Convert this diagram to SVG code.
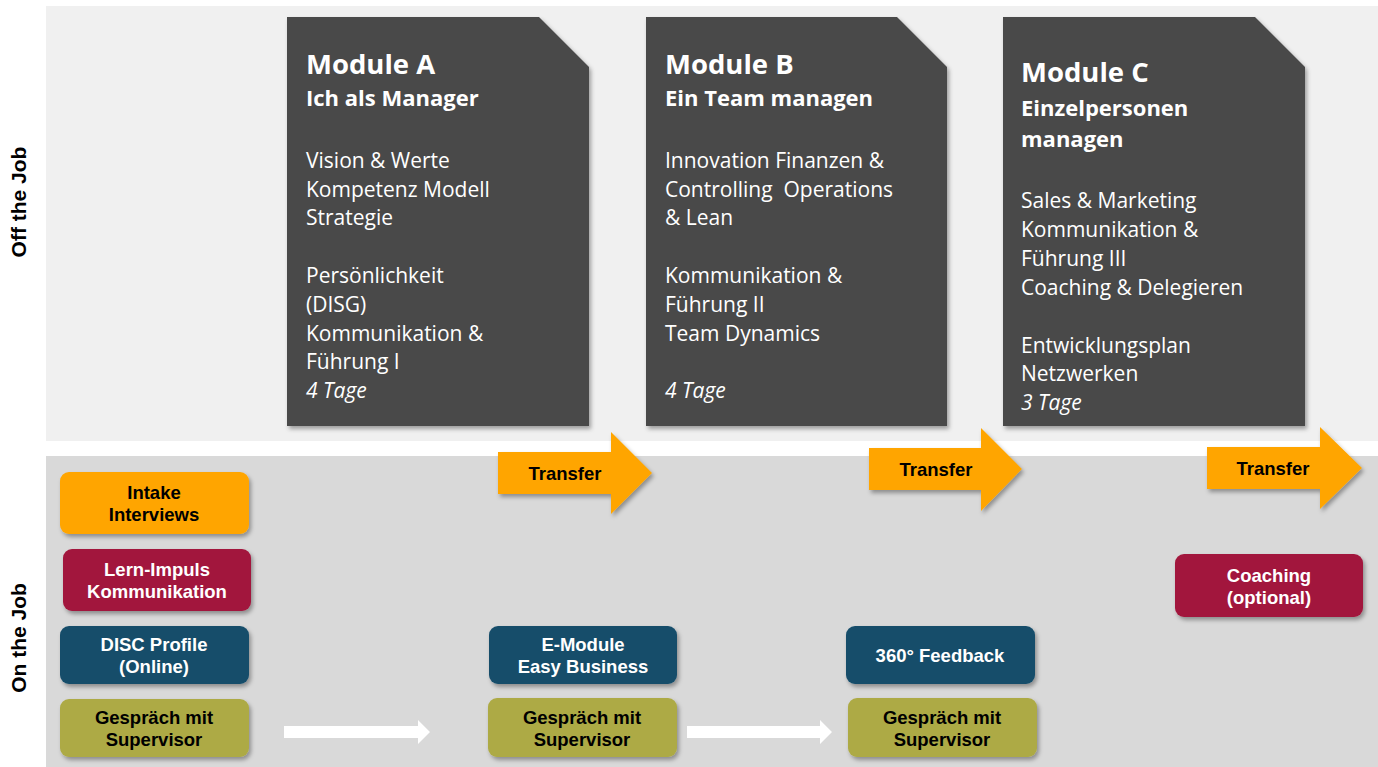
<svg xmlns="http://www.w3.org/2000/svg" width="1378" height="767" viewBox="0 0 1378 767">
<defs>
<filter id="sh" x="-10%" y="-10%" width="130%" height="130%">
<feDropShadow dx="2" dy="3" stdDeviation="2" flood-color="#000" flood-opacity="0.35"/>
</filter>
<style>
.card{fill:#4a4a4a;filter:url(#sh)}
.ct{font-family:"Open Sans","Noto Sans",sans-serif;fill:#ffffff;font-size:21px}
.ttl{font-weight:bold;font-size:27.5px}
.sub{font-weight:bold;font-size:22px}
.it{font-style:italic}
.box{filter:url(#sh)}
.bt{font-family:"Liberation Sans",Arial,sans-serif;font-weight:bold;font-size:18.5px;text-anchor:middle}
.side{font-family:"Liberation Sans",Arial,sans-serif;font-weight:bold;font-size:21px;text-anchor:middle;fill:#000}
.orange{fill:#ffa500}
.red{fill:#a2153c}
.blue{fill:#164d6b}
.olive{fill:#adaa44}
.w{fill:#ffffff}
.k{fill:#000000}
</style>
</defs>
<rect width="1378" height="767" fill="#ffffff"/>
<rect x="46" y="6" width="1332" height="435" fill="#f0f0f0"/>
<rect x="46" y="456" width="1332" height="311" fill="#d9d9d9"/>
<text class="side" transform="translate(26,202) rotate(-90)">Off the Job</text>
<text class="side" transform="translate(26,638) rotate(-90)">On the Job</text>

<g id="moduleA">
<polygon class="card" points="287,17 539,17 589,67 589,426 287,426"/>
<text class="ct ttl" x="306" y="74">Module A</text>
<text class="ct sub" x="306" y="106">Ich als Manager</text>
<text class="ct" x="306" y="168">Vision &amp; Werte</text>
<text class="ct" x="306" y="197">Kompetenz Modell</text>
<text class="ct" x="306" y="225">Strategie</text>
<text class="ct" x="306" y="283">Persönlichkeit</text>
<text class="ct" x="306" y="312">(DISG)</text>
<text class="ct" x="306" y="341">Kommunikation &amp;</text>
<text class="ct" x="306" y="369">Führung I</text>
<text class="ct it" x="306" y="398">4 Tage</text>
</g>

<g id="moduleB">
<polygon class="card" points="646,17 897,17 947,67 947,426 646,426"/>
<text class="ct ttl" x="665" y="74">Module B</text>
<text class="ct sub" x="665" y="106">Ein Team managen</text>
<text class="ct" x="665" y="168">Innovation Finanzen &amp;</text>
<text class="ct" x="665" y="197" xml:space="preserve">Controlling  Operations</text>
<text class="ct" x="665" y="225">&amp; Lean</text>
<text class="ct" x="665" y="283">Kommunikation &amp;</text>
<text class="ct" x="665" y="312">Führung II</text>
<text class="ct" x="665" y="341">Team Dynamics</text>
<text class="ct it" x="665" y="398">4 Tage</text>
</g>

<g id="moduleC">
<polygon class="card" points="1003,17 1255,17 1305,67 1305,426 1003,426"/>
<text class="ct ttl" x="1021" y="82">Module C</text>
<text class="ct sub" x="1021" y="116">Einzelpersonen</text>
<text class="ct sub" x="1021" y="147">managen</text>
<text class="ct" x="1021" y="208">Sales &amp; Marketing</text>
<text class="ct" x="1021" y="237">Kommunikation &amp;</text>
<text class="ct" x="1021" y="266">Führung III</text>
<text class="ct" x="1021" y="295">Coaching &amp; Delegieren</text>
<text class="ct" x="1021" y="353">Entwicklungsplan</text>
<text class="ct" x="1021" y="381">Netzwerken</text>
<text class="ct it" x="1021" y="410">3 Tage</text>
</g>

<g id="connectors">
<g id="transfer1">
<polygon class="orange box" points="498,452 611,452 611,432 652,473 611,514 611,494 498,494"/>
<text class="bt k" x="565" y="480">Transfer</text>
</g>
<g id="transfer2">
<polygon class="orange box" points="869,448 981,448 981,428 1022,469 981,511 981,490 869,490"/>
<text class="bt k" x="936" y="476">Transfer</text>
</g>
<g id="transfer3">
<polygon class="orange box" points="1207,447 1320,447 1320,427 1362,468 1320,509 1320,489 1207,489"/>
<text class="bt k" x="1273" y="475">Transfer</text>
</g>
<polygon fill="#ffffff" points="284,726 418,726 418,720 430,732 418,744 418,738 284,738"/>
<polygon fill="#ffffff" points="687,726 820,726 820,720 832,732 820,744 820,738 687,738"/>
</g>

<g id="intake">
<rect class="orange box" x="60" y="472" width="189" height="62" rx="9"/>
<text class="bt k" x="154" y="499">Intake</text>
<text class="bt k" x="154" y="521">Interviews</text>
</g>
<g id="lernimpuls">
<rect class="red box" x="63" y="549" width="188" height="62" rx="9"/>
<text class="bt w" x="157" y="576">Lern-Impuls</text>
<text class="bt w" x="157" y="598">Kommunikation</text>
</g>
<g id="disc">
<rect class="blue box" x="60" y="626" width="189" height="58" rx="9"/>
<text class="bt w" x="154" y="651">DISC Profile</text>
<text class="bt w" x="154" y="673">(Online)</text>
</g>
<g id="gespraech1">
<rect class="olive box" x="60" y="699" width="189" height="58" rx="9"/>
<text class="bt k" x="154" y="724">Gespräch mit</text>
<text class="bt k" x="154" y="746">Supervisor</text>
</g>
<g id="emodule">
<rect class="blue box" x="489" y="626" width="188" height="58" rx="9"/>
<text class="bt w" x="583" y="651">E-Module</text>
<text class="bt w" x="583" y="673">Easy Business</text>
</g>
<g id="gespraech2">
<rect class="olive box" x="488" y="698" width="189" height="59" rx="9"/>
<text class="bt k" x="582" y="724">Gespräch mit</text>
<text class="bt k" x="582" y="746">Supervisor</text>
</g>
<g id="feedback360">
<rect class="blue box" x="846" y="626" width="189" height="58" rx="9"/>
<text class="bt w" x="940" y="662">360° Feedback</text>
</g>
<g id="gespraech3">
<rect class="olive box" x="848" y="698" width="189" height="59" rx="9"/>
<text class="bt k" x="942" y="724">Gespräch mit</text>
<text class="bt k" x="942" y="746">Supervisor</text>
</g>
<g id="coaching">
<rect class="red box" x="1175" y="554" width="188" height="63" rx="9"/>
<text class="bt w" x="1269" y="582">Coaching</text>
<text class="bt w" x="1269" y="604">(optional)</text>
</g>
</svg>
